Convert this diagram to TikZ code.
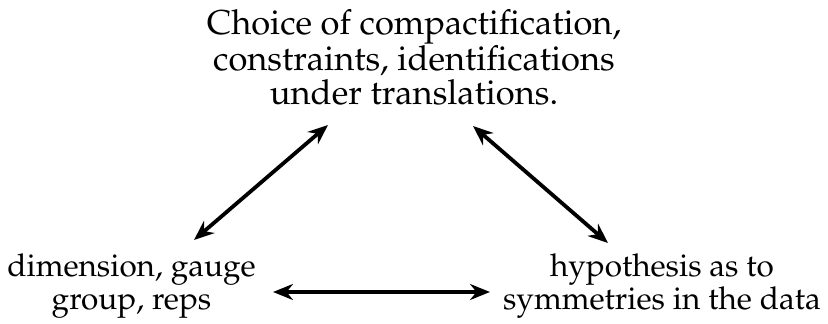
\documentclass[tikz,border=0pt]{standalone}
\usepackage[T1]{fontenc}
\usepackage{mathpazo}
\usetikzlibrary{arrows.meta}
\begin{document}
\begin{tikzpicture}[x=1pt,y=1pt,
  lbl/.style={align=center,inner sep=0pt,anchor=base},
  toplbl/.style={lbl,font=\fontsize{34.5}{34.5}\selectfont},
  botlbl/.style={lbl,font=\fontsize{31.5}{33}\selectfont},
  conn/.style={line width=3.8pt,{Stealth[length=20pt,width=16pt]}-{Stealth[length=20pt,width=16pt]}}]
\useasboundingbox (0,0) rectangle (828,324);
\node[toplbl] (top) at (414,219) {Choice of compactification,\\constraints, identifications\\under translations.};
\node[botlbl] (left) at (131.5,14) {dimension, gauge\\group, reps};
\node[botlbl] (right) at (662,14) {hypothesis as to\\symmetries in the data};
\coordinate (a1) at (194,84);
\coordinate (a2) at (328,199);
\coordinate (b1) at (473,198);
\coordinate (b2) at (608,81);
\coordinate (c1) at (273,32);
\coordinate (c2) at (490,32);
\draw[conn] (a1) -- (a2);
\draw[conn] (b1) -- (b2);
\draw[conn] (c1) -- (c2);
\end{tikzpicture}
\end{document}
